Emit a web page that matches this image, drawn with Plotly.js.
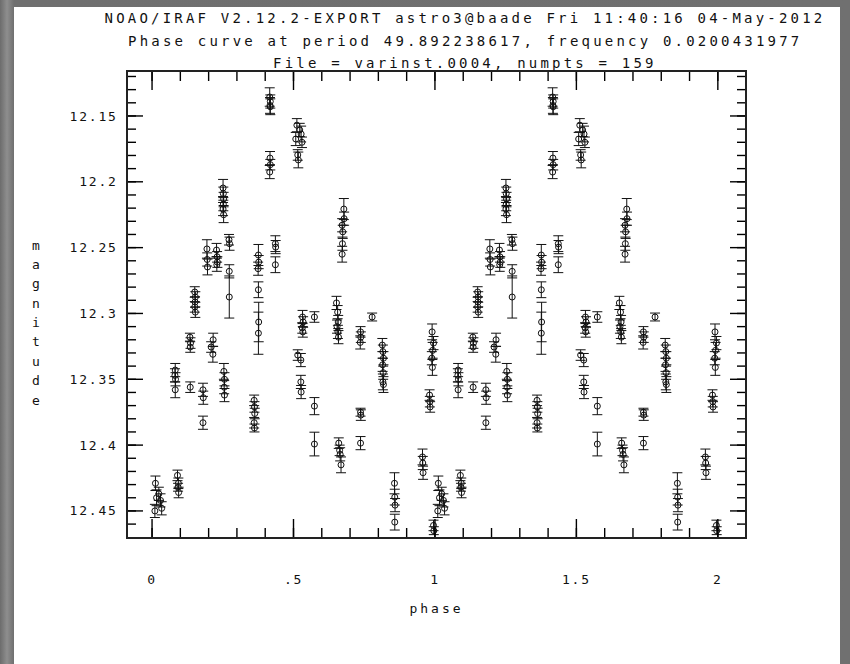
<!DOCTYPE html>
<html>
<head>
<meta charset="utf-8">
<script src="https://cdn.plot.ly/plotly-3.0.1.min.js"></script>
<style>
  html, body { margin: 0; padding: 0; width: 850px; height: 664px; overflow: hidden;
    background: linear-gradient(90deg, #6c6c6c 0px, #8e8e8e 7px, #6f6f6f 14px, #707070 100%); }
  #plot { position: absolute; left: 14px; top: 7px; width: 826px; height: 657px; background: #fff; }
  .gtitle, .annotation-text { letter-spacing: 3.2px; }
  .xtick text, .ytick text { letter-spacing: 1.8px; }
  .xtitle { letter-spacing: 3px; }
</style>
</head>
<body>
<div id="plot"></div>
<script>
const phase = [
  0.012, 0.016, 0.010, 0.030, 0.034, 0.024,
  0.090, 0.093, 0.092, 0.094,
  0.082, 0.081, 0.083, 0.082,
  0.134, 0.136, 0.135, 0.135,
  0.151, 0.153, 0.152, 0.151, 0.153,
  0.180, 0.181, 0.180,
  0.194, 0.195, 0.196,
  0.216, 0.209, 0.215,
  0.228, 0.230, 0.231, 0.229,
  0.251, 0.252, 0.253, 0.252, 0.251, 0.253,
  0.254, 0.256, 0.255, 0.256,
  0.272, 0.274, 0.273, 0.273,
  0.361, 0.362, 0.363, 0.361, 0.362,
  0.376, 0.377, 0.375, 0.376, 0.377, 0.376,
  0.416, 0.418, 0.417, 0.418,
  0.417, 0.418, 0.416,
  0.436, 0.437, 0.436,
  0.512, 0.522, 0.527, 0.508, 0.530,
  0.515, 0.517,
  0.532, 0.534, 0.531, 0.533,
  0.515, 0.526, 0.526, 0.527,
  0.574, 0.574, 0.574,
  0.652, 0.656, 0.658, 0.654, 0.657, 0.659,
  0.678, 0.679, 0.672, 0.674, 0.673, 0.672,
  0.660, 0.663, 0.665, 0.668,
  0.737, 0.738, 0.736, 0.737, 0.738, 0.737,
  0.778,
  0.814, 0.816, 0.818, 0.815, 0.817, 0.816, 0.818,
  0.857, 0.858, 0.859, 0.858,
  0.956, 0.957, 0.958,
  0.981, 0.982, 0.983,
  0.990, 0.995, 0.992, 0.989, 0.991,
  0.995, 0.996
];
const mag = [
  12.429, 12.440, 12.450, 12.442, 12.448, 12.437,
  12.423, 12.429, 12.432, 12.436,
  12.343, 12.347, 12.350, 12.358,
  12.318, 12.3225, 12.3255, 12.356,
  12.2837, 12.2875, 12.2913, 12.295, 12.299,
  12.358, 12.364, 12.383,
  12.251, 12.259, 12.2647,
  12.320, 12.3255, 12.331,
  12.2518, 12.257, 12.261, 12.263,
  12.2047, 12.209, 12.213, 12.217, 12.2207, 12.225,
  12.344, 12.350, 12.356, 12.362,
  12.244, 12.247, 12.268, 12.2875,
  12.366, 12.371, 12.376, 12.383, 12.387,
  12.2556, 12.261, 12.266, 12.282, 12.3065, 12.315,
  12.1356, 12.139, 12.142, 12.143,
  12.182, 12.187, 12.1926,
  12.247, 12.2496, 12.263,
  12.157, 12.1606, 12.1637, 12.1675, 12.170,
  12.1796, 12.1834,
  12.3027, 12.3065, 12.311, 12.314,
  12.3316, 12.3354, 12.352, 12.3597,
  12.3027, 12.3704, 12.3992,
  12.292, 12.299, 12.3065, 12.310, 12.314, 12.318,
  12.2207, 12.228, 12.233, 12.238, 12.247, 12.255,
  12.3985, 12.404, 12.407, 12.415,
  12.314, 12.318, 12.322, 12.375, 12.3772, 12.3985,
  12.3027,
  12.324, 12.329, 12.334, 12.339, 12.345, 12.352, 12.354,
  12.429, 12.4395, 12.4456, 12.4585,
  12.409, 12.4136, 12.421,
  12.362, 12.367, 12.371,
  12.314, 12.3225, 12.328, 12.334, 12.341,
  12.461, 12.465
];
const err = [
  0.0055, 0.006, 0.005, 0.005, 0.005, 0.005,
  0.004, 0.004, 0.003, 0.004,
  0.005, 0.005, 0.005, 0.006,
  0.003, 0.004, 0.004, 0.004,
  0.004, 0.004, 0.004, 0.004, 0.004,
  0.005, 0.005, 0.005,
  0.007, 0.005, 0.006,
  0.005, 0.004, 0.006,
  0.005, 0.004, 0.004, 0.005,
  0.0065, 0.005, 0.005, 0.005, 0.005, 0.006,
  0.006, 0.005, 0.005, 0.005,
  0.004, 0.005, 0.005, 0.016,
  0.004, 0.004, 0.004, 0.004, 0.003,
  0.008, 0.005, 0.005, 0.006, 0.015, 0.016,
  0.007, 0.005, 0.006, 0.006,
  0.005, 0.004, 0.005,
  0.006, 0.005, 0.006,
  0.005, 0.005, 0.006, 0.005, 0.004,
  0.004, 0.006,
  0.005, 0.004, 0.004, 0.004,
  0.004, 0.005, 0.005, 0.005,
  0.004, 0.0065, 0.009,
  0.005, 0.005, 0.005, 0.005, 0.005, 0.005,
  0.008, 0.005, 0.005, 0.005, 0.005, 0.006,
  0.004, 0.004, 0.005, 0.006,
  0.004, 0.004, 0.005, 0.003, 0.004, 0.005,
  0.003,
  0.005, 0.005, 0.005, 0.005, 0.005, 0.006, 0.006,
  0.008, 0.006, 0.005, 0.006,
  0.006, 0.005, 0.005,
  0.004, 0.004, 0.004,
  0.006, 0.005, 0.006, 0.005, 0.006,
  0.004, 0.003
];

const xTickVals = [0, 0.5, 1, 1.5, 2];
const xTickText = ['0', '.5', '1', '1.5', '2'];
const yTickVals = [12.15, 12.2, 12.25, 12.3, 12.35, 12.4, 12.45];
const yTickText = ['12.15', '12.2', '12.25', '12.3', '12.35', '12.4', '12.45'];
const xMinorStep = 0.1;
const yMinorStep = 0.01;

const titleLines = [
  'NOAO/IRAF V2.12.2-EXPORT astro3@baade Fri 11:40:16 04-May-2012',
  'Phase curve at period 49.892238617, frequency 0.0200431977',
  'File = varinst.0004, numpts = 159'
];
const xLabel = 'phase';
const yLabel = 'magnitude';

// Phase curve drawn over two cycles, as IRAF does
const xs = phase.concat(phase.map(p => p + 1));
const ys = mag.concat(mag);
const es = err.concat(err);

const FONT = 'DejaVu Sans Mono, Liberation Mono, monospace';
const INK = '#111';
const LINE = '#222';
const TICK = '#000';
const X_RANGE = [-0.085, 2.096];
const Y_RANGE = [12.4698, 12.1166];

const trace = {
  type: 'scatter', mode: 'markers',
  x: xs, y: ys,
  error_y: { type: 'data', array: es, visible: true, color: INK, thickness: 1, width: 5 },
  marker: { symbol: 'circle-open', size: 6, color: INK, line: { width: 1, color: INK } }
};

const annotations = [
  { text: titleLines[1], x: 0.546, y: 1.0667 },
  { text: titleLines[2], x: 0.546, y: 1.0194 }
].map(a => Object.assign({
  xref: 'paper', yref: 'paper', showarrow: false, xanchor: 'center', yanchor: 'middle',
  font: { family: FONT, size: 14, color: INK }
}, a));

yLabel.split('').forEach((ch, i) => {
  annotations.push({
    text: ch, xref: 'paper', yref: 'paper', x: -0.1459, y: (537 - (245 + i * 19.4)) / 465,
    showarrow: false, xanchor: 'center', yanchor: 'middle',
    font: { family: FONT, size: 13, color: INK }
  });
});

// Inward tick marks on all four sides (major + minor), placed on the axis scales
function ticksBetween(lo, hi, step) {
  const out = [];
  const a = Math.min(lo, hi), b = Math.max(lo, hi);
  for (let k = Math.ceil(a / step - 1e-9); k * step <= b + 1e-9; k++) out.push(+(k * step).toFixed(6));
  return out;
}
const shapes = [];
function xTick(v, len) {
  [[0, len], [1, -len]].forEach(([anc, l]) => shapes.push({
    type: 'line', xref: 'x', yref: 'paper', x0: v, x1: v,
    ysizemode: 'pixel', yanchor: anc, y0: 0, y1: l,
    line: { color: TICK, width: 1.4 }, layer: 'above'
  }));
}
function yTick(v, len) {
  [[0, len], [1, -len]].forEach(([anc, l]) => shapes.push({
    type: 'line', xref: 'paper', yref: 'y', y0: v, y1: v,
    xsizemode: 'pixel', xanchor: anc, x0: 0, x1: l,
    line: { color: TICK, width: 1.4 }, layer: 'above'
  }));
}
ticksBetween(X_RANGE[0], X_RANGE[1], xMinorStep).forEach(v => xTick(v, 9));
xTickVals.forEach(v => xTick(v, 18));
ticksBetween(Y_RANGE[0], Y_RANGE[1], yMinorStep).forEach(v => yTick(v, 8));
yTickVals.forEach(v => yTick(v, 15));

const layout = {
  width: 826, height: 657,
  margin: { l: 114, r: 95, t: 65, b: 127 },
  showlegend: false,
  title: {
    text: titleLines[0], xref: 'container', yref: 'container',
    x: 0.546, y: 1 - 11 / 657, xanchor: 'center', yanchor: 'middle',
    font: { family: FONT, size: 14, color: INK }
  },
  xaxis: {
    range: X_RANGE, showline: true, mirror: true, linecolor: LINE, linewidth: 1.5,
    ticks: 'outside', ticklen: 30, tickcolor: 'rgba(0,0,0,0)', showgrid: false, zeroline: false,
    tickmode: 'array', tickvals: xTickVals, ticktext: xTickText,
    tickfont: { family: FONT, size: 13, color: INK },
    title: { text: xLabel, standoff: 18, font: { family: FONT, size: 13, color: INK } }
  },
  yaxis: {
    range: Y_RANGE, showline: true, mirror: true, linecolor: LINE, linewidth: 1.5,
    ticks: 'outside', ticklen: 6, tickcolor: 'rgba(0,0,0,0)', showgrid: false, zeroline: false,
    tickmode: 'array', tickvals: yTickVals, ticktext: yTickText,
    tickfont: { family: FONT, size: 13, color: INK }
  },
  shapes: shapes,
  annotations: annotations
};

Plotly.newPlot('plot', [trace], layout, { displayModeBar: false });
</script>
</body>
</html>
